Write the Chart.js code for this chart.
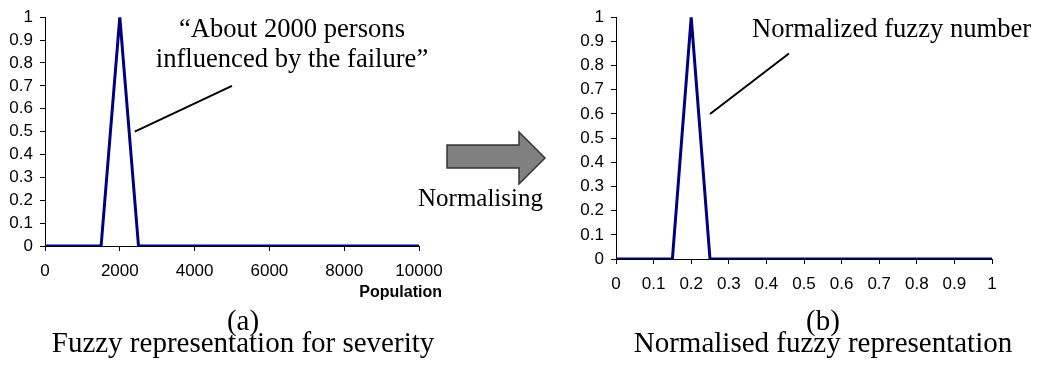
<!DOCTYPE html>
<html>
<head>
<meta charset="utf-8">
<script src="https://cdn.jsdelivr.net/npm/chart.js@4"></script>
<style>
  body { margin: 0; background: #fff; width: 1040px; height: 374px; position: relative; overflow: hidden; }
  canvas { position: absolute; }
  .txt { position: absolute; font-family: "Liberation Serif", "Times New Roman", serif; color: #000; white-space: nowrap; }
</style>
</head>
<body>
<canvas id="severityChart" width="460" height="300" style="left:0;top:0"></canvas>
<canvas id="normalChart" width="470" height="310" style="left:570px;top:0"></canvas>

<div class="txt" style="left:142px;top:13px;width:300px;text-align:center;font-size:26.6px;line-height:30px">“About 2000 persons<br>influenced by the failure”</div>
<div class="txt" style="left:752px;top:13px;font-size:26.6px;line-height:30px">Normalized fuzzy number</div>
<div class="txt" style="left:418px;top:185px;font-size:25px;line-height:25px">Normalising</div>
<div style="position:absolute;left:300px;top:284px;width:142px;text-align:right;font:bold 16px 'Liberation Sans', Arial, sans-serif;line-height:16px">Population</div>
<div class="txt" style="left:43px;top:306px;width:400px;text-align:center;font-size:29px;line-height:29px">(a)</div>
<div class="txt" style="left:43px;top:328px;width:400px;text-align:center;font-size:29px;line-height:29px">Fuzzy representation for severity</div>
<div class="txt" style="left:623px;top:306px;width:400px;text-align:center;font-size:29px;line-height:29px">(b)</div>
<div class="txt" style="left:623px;top:328px;width:400px;text-align:center;font-size:29px;line-height:29px">Normalised fuzzy representation</div>

<svg style="position:absolute;left:0;top:0" width="1040" height="374">
  <polygon points="447,145 519,145 519,132 545,158 519,184 519,168 447,168" fill="#808080" stroke="#333" stroke-width="1.5"/>
</svg>

<script>
// population values (a)
const populationX = [0, 1500, 2000, 2500, 10000];
const severityY = [0, 0, 1, 0, 0];
// normalised values (b)
const normalX = [0, 0.15, 0.2, 0.25, 1];
const normalY = [0, 0, 1, 0, 0];

// leader lines for the labels, in data units
const severityLeader = [[5000, 0.7], [2400, 0.5]];
const normalLeader = [[0.46, 0.85], [0.25, 0.6]];

const tickFont = { family: "'Liberation Sans', Arial, sans-serif", size: 17 };
const plainNum = v => String(Number(v.toFixed(6)));

const leaderPlugin = {
    id: 'leader',
    afterDatasetsDraw(chart, args, opts) {
        const ctx = chart.ctx;
        const xs = chart.scales.x, ys = chart.scales.y;
        ctx.save();
        ctx.strokeStyle = '#000';
        ctx.lineWidth = 2;
        ctx.beginPath();
        ctx.moveTo(xs.getPixelForValue(opts.pts[0][0]), ys.getPixelForValue(opts.pts[0][1]));
        ctx.lineTo(xs.getPixelForValue(opts.pts[1][0]), ys.getPixelForValue(opts.pts[1][1]));
        ctx.stroke();
        ctx.restore();
    }
};

function makeChart(id, xs, ys, xMax, xStep, pad, yWidth, xHeight, leader) {
    new Chart(document.getElementById(id), {
        type: 'line',
        data: {
            datasets: [{
                data: xs.map((x, i) => ({ x: x, y: ys[i] })),
                borderColor: '#000080',
                borderWidth: 3,
                pointRadius: 0,
                fill: false,
                tension: 0
            }]
        },
        options: {
            responsive: false,
            animation: false,
            layout: { padding: pad },
            plugins: { legend: { display: false }, tooltip: { enabled: false }, leader: { pts: leader } },
            scales: {
                x: {
                    type: 'linear',
                    min: 0, max: xMax,
                    ticks: { stepSize: xStep, color: '#000', font: tickFont, padding: 10, maxRotation: 0, autoSkip: false, callback: plainNum },
                    grid: { drawOnChartArea: false, drawTicks: true, tickLength: 5, color: '#000' },
                    border: { color: '#000', width: 1 },
                    afterFit: s => { s.height = xHeight; }
                },
                y: {
                    min: 0, max: 1,
                    ticks: { stepSize: 0.1, color: '#000', font: tickFont, padding: 7, autoSkip: false, callback: plainNum },
                    grid: { drawOnChartArea: false, drawTicks: true, tickLength: 5, color: '#000' },
                    border: { color: '#000', width: 1 },
                    afterFit: s => { s.width = yWidth; }
                }
            }
        },
        plugins: [leaderPlugin]
    });
}

makeChart('severityChart', populationX, severityY, 10000, 2000,
    { top: 16, right: 41, left: 0, bottom: 0 }, 45, 54, severityLeader);
makeChart('normalChart', normalX, normalY, 1, 0.1,
    { top: 11, right: 48, left: 0, bottom: 0 }, 46, 51, normalLeader);
</script>
</body>
</html>
